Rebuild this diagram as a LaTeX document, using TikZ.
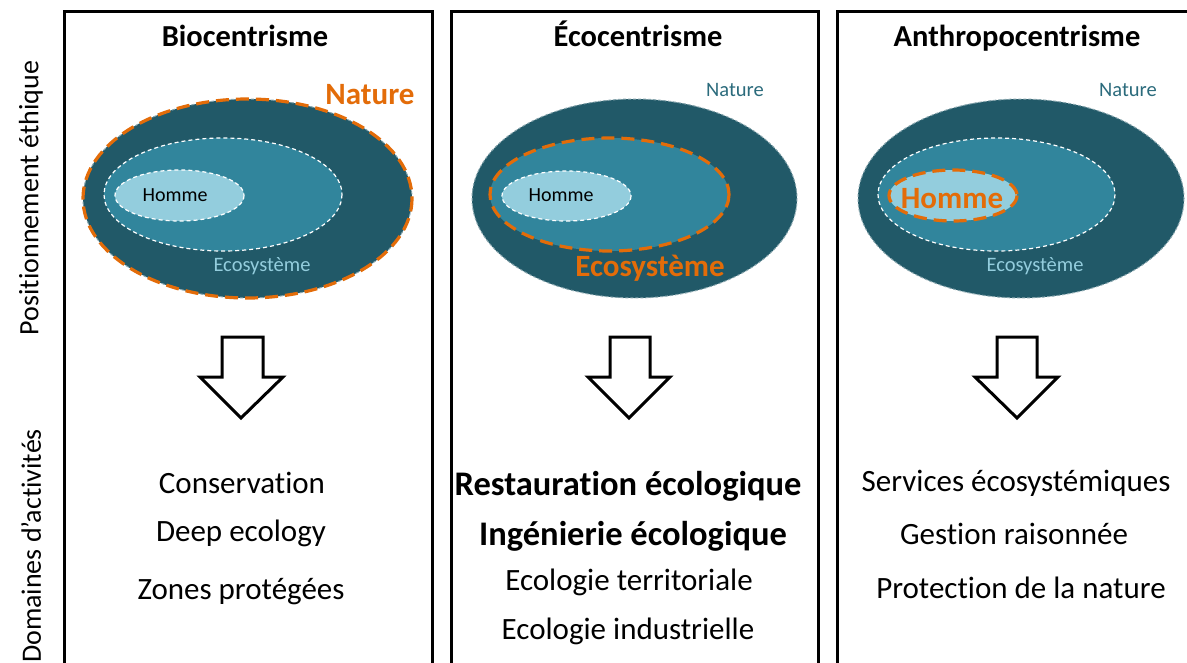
\documentclass[tikz,border=0pt]{standalone}
\usepackage{fontspec}
\setmainfont{Carlito}[Ligatures=NoCommon]
\definecolor{dark}{HTML}{215968}
\definecolor{mid}{HTML}{31859C}
\definecolor{light}{HTML}{93CDDD}
\definecolor{orng}{HTML}{E36C09}
\definecolor{natlab}{HTML}{2B6B7C}
\tikzset{
  panel/.style={draw=black, line width=3pt},
  outerell/.style={fill=dark, draw=dark!55!white, line width=1pt, dash pattern=on 3pt off 2pt},
  midell/.style={fill=mid, draw=white, line width=1.2pt, dash pattern=on 4pt off 3pt},
  innerell/.style={fill=light, draw=white, line width=1.2pt, dash pattern=on 4pt off 3pt},
  orangedash/.style={draw=orng, line width=3.2pt, dash pattern=on 13pt off 7pt},
  title/.style={font=\fontsize{30.5}{34}\selectfont\bfseries, inner sep=0pt, anchor=base},
  act/.style={font=\fontsize{31}{34}\selectfont, inner sep=0pt},
  actb/.style={font=\fontsize{34.5}{38}\selectfont\bfseries, inner sep=0pt},
  small/.style={font=\fontsize{20}{22}\selectfont, inner sep=0pt},
  lab/.style={font=\fontsize{20.5}{22}\selectfont, inner sep=0pt},
  bigor/.style={font=\fontsize{31}{34}\selectfont\bfseries, text=orng, inner sep=0pt},
  side/.style={font=\fontsize{28}{30}\selectfont, rotate=90, inner sep=0pt},
  blockarrow/.style={draw=black, fill=white, line width=3pt, line join=miter}
}
\begin{document}
\begin{tikzpicture}[x=1pt,y=-1pt]
\useasboundingbox (0,0) rectangle (1187,662);
\clip (0,0) rectangle (1187,662);
\fill[white] (0,0) rectangle (1187,662);
% panels
\draw[panel] (64,700) -- (64,11) -- (432,11) -- (432,700);
\draw[panel] (451,700) -- (451,11) -- (818,11) -- (818,700);
\draw[panel] (837,700) -- (837,11) -- (1200,11);
% side labels
\node[side] (pos) at (31,198) {Positionnement éthique};
\node[side] (dom) at (31,546) {Domaines d’activités};
% titles
\node[title] (t1) at (245,46) {Biocentrisme};
\node[title] (t2) at (638,46) {Écocentrisme};
\node[title] (t3) at (1017,46) {Anthropocentrisme};
% panel 1 ellipses
\path[outerell] (247.5,198.5) ellipse [x radius=164.5, y radius=99.5];
\draw[orangedash] (247.5,198.5) ellipse [x radius=164.5, y radius=99.5];
\path[midell] (223,194.5) ellipse [x radius=119, y radius=56.5];
\path[innerell] (179.5,195.5) ellipse [x radius=64.5, y radius=25.5];
\node[small] (h1) at (175,195) {Homme};
\node[lab, text=light] (e1) at (262,266) {Ecosystème};
\node[bigor] (n1) at (370,95) {Nature};
% panel 2 ellipses
\path[outerell] (634.5,198.5) ellipse [x radius=162.5, y radius=99.5];
\path[midell, draw=none] (609.5,194.5) ellipse [x radius=119.5, y radius=56.5];
\draw[orangedash] (609.5,194.5) ellipse [x radius=119.5, y radius=56.5];
\path[innerell] (566.5,196) ellipse [x radius=64.5, y radius=25];
\node[small] (h2) at (561,195) {Homme};
\node[bigor] (e2) at (650,268) {Ecosystème};
\node[lab, text=natlab] (n2) at (735,90) {Nature};
% panel 3 ellipses
\path[outerell] (1021,198.5) ellipse [x radius=163, y radius=99.5];
\path[midell] (996.5,194.5) ellipse [x radius=118.5, y radius=56.5];
\path[innerell, draw=none] (953,195.5) ellipse [x radius=64, y radius=25.5];
\draw[orangedash] (953,195.5) ellipse [x radius=64, y radius=25.5];
\node[bigor] (h3) at (952,199) {Homme};
\node[lab, text=light] (e3) at (1035,266) {Ecosystème};
\node[lab, text=natlab] (n3) at (1128,90) {Nature};
% block arrows
\draw[blockarrow] (222,337) -- (263,337) -- (263,377) -- (283,377) -- (241,418) -- (200,377) -- (222,377) -- cycle;
\draw[blockarrow] (610,337) -- (650,337) -- (650,377) -- (670,377) -- (629,418) -- (588,377) -- (610,377) -- cycle;
\draw[blockarrow] (997,337) -- (1037,337) -- (1037,377) -- (1058,377) -- (1017,418) -- (975,377) -- (997,377) -- cycle;
% activities
\node[act] (a11) at (242,483) {Conservation};
\node[act] (a12) at (241,533) {Deep ecology};
\node[act] (a13) at (241,592) {Zones protégées};
\node[actb] (a21) at (628,486) {Restauration écologique};
\node[actb] (a22) at (633,536) {Ingénierie écologique};
\node[act] (a23) at (629,582) {Ecologie territoriale};
\node[act] (a24) at (628,631) {Ecologie industrielle};
\node[act] (a31) at (1016,483) {Services écosystémiques};
\node[act] (a32) at (1014,534) {Gestion raisonnée};
\node[act] (a33) at (1021,588) {Protection de la nature};
\end{tikzpicture}
\end{document}
